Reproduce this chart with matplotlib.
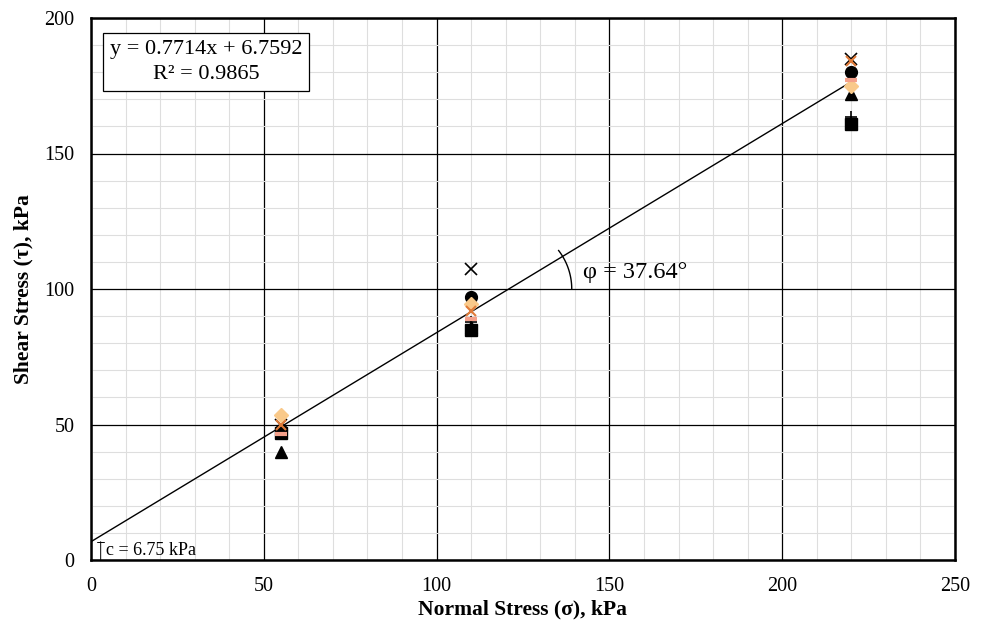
import numpy as np
import matplotlib
matplotlib.use("Agg")
import matplotlib.pyplot as plt
from matplotlib.ticker import MultipleLocator

plt.rcParams['font.family'] = ['Liberation Serif', 'DejaVu Serif']

normal_stress = [55, 110, 220]
series = {
    'circle':   [48, 97, 180],
    'square':   [47, 85, 161],
    'triangle': [40, 86, 172],
    'xblack':   [50, 107.5, 185],
    'plus':     [48, 88, 163.5],
    'diamond':  [53.5, 94.5, 175],
    'xorange':  [50, 92, 184],
    'dash':     [46.5, 89, 177],
}
styles = {
    'circle':   dict(marker='o', color='black', ms=8.5, ls='none'),
    'square':   dict(marker='s', color='black', ms=8, ls='none'),
    'triangle': dict(marker='^', color='black', ms=8.5, ls='none'),
    'xblack':   dict(marker='x', color='black', ms=9, mew=1.2, ls='none'),
    'plus':     dict(marker='+', color='black', ms=9, mew=1.2, ls='none'),
    'diamond':  dict(marker='D', color='#F9C98A', ms=7.5, ls='none'),
    'xorange':  dict(marker='x', color='#E07B39', ms=7, mew=1.5, ls='none'),
    'dash':     dict(marker='_', color='#F4A08A', ms=8, mew=3, ls='none'),
}
slope = 0.7714
intercept = 6.7592
r2 = 0.9865
phi_deg = 37.64
cohesion = 6.75

fig = plt.figure(figsize=(9.84, 6.24), dpi=100)
ax = fig.add_axes([91/984, 64/624, 864/984, 542/624])
ax.set_xlim(0, 250)
ax.set_ylim(0, 200)
ax.xaxis.set_major_locator(MultipleLocator(50))
ax.yaxis.set_major_locator(MultipleLocator(50))
ax.xaxis.set_minor_locator(MultipleLocator(10))
ax.yaxis.set_minor_locator(MultipleLocator(10))
ax.grid(which='minor', color='#dedede', lw=0.8, zorder=0)
ax.grid(which='major', color='black', lw=0.9, zorder=1)
ax.tick_params(which='both', length=0, labelsize=14.5, pad=12)
for s in ax.spines.values():
    s.set_linewidth(1.8)
    s.set_zorder(5)

# trend line
xl = np.array([0, 220])
ax.plot(xl, slope * xl + intercept, color='black', lw=1.0, zorder=3)

for k, v in series.items():
    ax.plot(normal_stress, v, zorder=4, **styles[k])

# equation box
fig.text(206/984, 1 - 62/624, f"y = {slope}x + {intercept}\nR² = {r2}",
         ha='center', va='center', fontsize=16, linespacing=1.45,
         bbox=dict(boxstyle='square,pad=0.3', fc='white', ec='black', lw=0.9), zorder=6)

# angle arc
x0 = (100 - intercept) / slope
fig.canvas.draw()
sx = ax.transData.transform((1, 0))[0] - ax.transData.transform((0, 0))[0]
sy = ax.transData.transform((0, 1))[1] - ax.transData.transform((0, 0))[1]
rpx = 63
th = np.linspace(0, np.radians(phi_deg), 50)
ax.plot(x0 + rpx * np.cos(th) / sx, 100 + rpx * np.sin(th) / sy, color='black', lw=1.0, zorder=3)
ax.text(x0 + 21.5, 100 + 6, f"φ = {phi_deg}°", fontsize=17.5, ha='left', va='center', zorder=6)

# cohesion marker
ax.annotate('', xy=(2.8, 0), xytext=(2.8, cohesion),
            arrowprops=dict(arrowstyle='|-|,widthA=0.25,widthB=0.0', color='black', lw=0.7,
                            shrinkA=0, shrinkB=0))
ax.text(4.3, cohesion / 2 + 0.3, f"c = {cohesion} kPa", fontsize=13, ha='left', va='center')

ax.set_xlabel('Normal Stress (σ), kPa', fontsize=15.5, fontweight='bold', labelpad=3)
ax.set_ylabel('Shear Stress (τ), kPa', fontsize=15.5, fontweight='bold', labelpad=8)

fig.savefig('out.png', dpi=100)
